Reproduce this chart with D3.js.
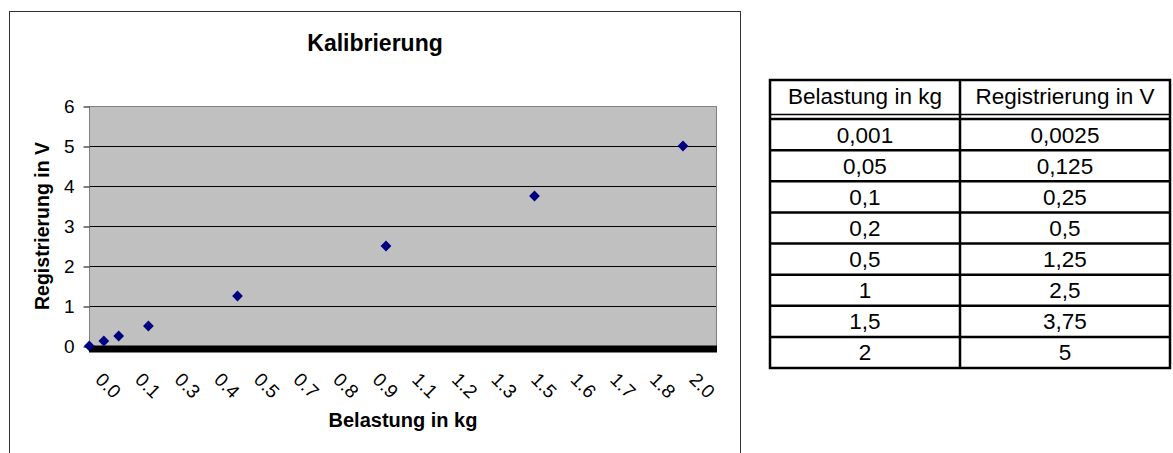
<!DOCTYPE html>
<html>
<head>
<meta charset="utf-8">
<script src="https://cdn.jsdelivr.net/npm/d3@7"></script>
<style>
  body { margin: 0; background: #fff; }
  text { font-family: "Liberation Sans", Arial, sans-serif; }
</style>
</head>
<body>
<div id="chart"></div>
<script>
// Calibration data: load (kg) against recorded signal (V)
let loads = [0.001, 0.05, 0.1, 0.2, 0.5, 1, 1.5, 2];
let volts = [0.0025, 0.125, 0.25, 0.5, 1.25, 2.5, 3.75, 5];

// Axis ticks as printed on the chart
let xTickLabels = ["0.0", "0.1", "0.3", "0.4", "0.5", "0.7", "0.8", "0.9",
                   "1.1", "1.2", "1.3", "1.5", "1.6", "1.7", "1.8", "2.0"];
let yTicks = [0, 1, 2, 3, 4, 5, 6];

let tableHeaders = ["Belastung in kg", "Registrierung in V"];

let width = 1173, height = 453;
let plot = {left: 89, top: 106, right: 717, bottom: 346};

let svg = d3.select("#chart")
    .append("svg")
    .attr("width", width)
    .attr("height", height);

// Chart frame (runs off the bottom of the picture)
svg.append("rect")
    .attr("x", 9.5).attr("y", 11.5)
    .attr("width", 731).attr("height", 480)
    .attr("fill", "#fff")
    .attr("stroke", "#333");

// Scales
let x = d3.scaleLinear().domain([0, 2]).range([plot.left, 683]);
let y = d3.scaleLinear().domain([0, 6]).range([plot.bottom, plot.top]);

// Grey plot area
svg.append("rect")
    .attr("x", plot.left).attr("y", plot.top)
    .attr("width", plot.right - plot.left)
    .attr("height", plot.bottom - plot.top)
    .attr("fill", "#c0c0c0");

// Horizontal gridlines
svg.append("g")
    .selectAll("line")
    .data(yTicks.filter(d => d > 0 && d < 6))
    .enter()
    .append("line")
    .attr("x1", plot.left).attr("x2", plot.right)
    .attr("y1", d => Math.round(y(d)) + 0.5)
    .attr("y2", d => Math.round(y(d)) + 0.5)
    .attr("stroke", "#000");

// Plot border (top, right, left)
svg.append("path")
    .attr("d", `M${plot.left + 0.5},${plot.bottom} V${plot.top + 0.5} H${plot.right - 0.5} V${plot.bottom}`)
    .attr("fill", "none")
    .attr("stroke", "#808080");

// Y axis
let yAxis = svg.append("g")
    .attr("transform", `translate(${plot.left + 0.5}, 0.5)`)
    .call(d3.axisLeft(y).tickValues(yTicks).tickFormat(d3.format("d")).tickSize(6).tickPadding(9));
yAxis.select(".domain").remove();
yAxis.selectAll("line").attr("stroke", "#000");
yAxis.selectAll("text")
    .style("font-size", "19px")
    .style("font-family", "'Liberation Sans', Arial, sans-serif")
    .attr("fill", "#000");

// Thick black x axis
svg.append("rect")
    .attr("x", plot.left).attr("y", plot.bottom - 0.5)
    .attr("width", plot.right - plot.left)
    .attr("height", 7)
    .attr("fill", "#000");

// Rotated x tick labels, evenly spaced from 0 to 2
let xTickValues = xTickLabels.map((d, i) => i * 2 / (xTickLabels.length - 1));
svg.append("g")
    .selectAll("text")
    .data(xTickValues)
    .enter()
    .append("text")
    .attr("transform", d => `translate(${x(d) + 15}, 371) rotate(45)`)
    .attr("dy", "0.72em")
    .style("font-size", "19px")
    .text((d, i) => xTickLabels[i]);

// Data points as navy diamonds
let points = loads.map((d, i) => ({load: d, volt: volts[i]}));
svg.append("g")
    .selectAll("path")
    .data(points)
    .enter()
    .append("path")
    .attr("d", d3.symbol(d3.symbolSquare, 58))
    .attr("transform", d => `translate(${x(d.load)}, ${y(d.volt)}) rotate(45)`)
    .attr("fill", "#000080");

// Titles
svg.append("text")
    .attr("x", 375).attr("y", 51)
    .style("text-anchor", "middle")
    .style("font-size", "23px")
    .style("font-weight", "bold")
    .text("Kalibrierung");

svg.append("text")
    .attr("transform", `translate(49, ${(plot.top + plot.bottom) / 2}) rotate(-90)`)
    .style("text-anchor", "middle")
    .style("font-size", "19.5px")
    .style("font-weight", "bold")
    .text("Registrierung in V");

svg.append("text")
    .attr("x", (plot.left + plot.right) / 2).attr("y", 427)
    .style("text-anchor", "middle")
    .style("font-size", "20px")
    .style("font-weight", "bold")
    .text("Belastung in kg");

// Value table on the right
let table = {left: 770, mid: 960, right: 1170, top: 80, headBottom: 114.5, bodyTop: 119, bottom: 368};
let colCenter = [(table.left + table.mid) / 2, (table.mid + table.right) / 2];
let row = d3.scaleBand().domain(d3.range(loads.length)).range([table.bodyTop, table.bottom]);

let tg = svg.append("g");
let fmt = d => String(d).replace(".", ",");

// header texts
tg.selectAll("text.head")
    .data(tableHeaders)
    .enter()
    .append("text")
    .attr("class", "head")
    .attr("x", (d, i) => colCenter[i])
    .attr("y", 104)
    .style("text-anchor", "middle")
    .style("font-size", "22.5px")
    .text(d => d);

// body texts
let rows = tg.selectAll("g.row")
    .data(points)
    .enter()
    .append("g")
    .attr("class", "row")
    .attr("transform", (d, i) => `translate(0, ${row(i)})`);
rows.append("text")
    .attr("x", colCenter[0]).attr("y", row.bandwidth() / 2 + 8)
    .style("text-anchor", "middle")
    .style("font-size", "22.5px")
    .text(d => fmt(d.load));
rows.append("text")
    .attr("x", colCenter[1]).attr("y", row.bandwidth() / 2 + 8)
    .style("text-anchor", "middle")
    .style("font-size", "22.5px")
    .text(d => fmt(d.volt));

// grid lines of the table
tg.selectAll("line.hrow")
    .data(d3.range(1, loads.length))
    .enter()
    .append("line")
    .attr("class", "hrow")
    .attr("x1", table.left).attr("x2", table.right)
    .attr("y1", d => row(d)).attr("y2", d => row(d))
    .attr("stroke", "#000").attr("stroke-width", 2.5);
// double line below the header
tg.append("line")
    .attr("x1", table.left).attr("x2", table.right)
    .attr("y1", table.headBottom).attr("y2", table.headBottom)
    .attr("stroke", "#000").attr("stroke-width", 1.5);
tg.append("line")
    .attr("x1", table.left).attr("x2", table.right)
    .attr("y1", table.bodyTop).attr("y2", table.bodyTop)
    .attr("stroke", "#000").attr("stroke-width", 2.5);
tg.append("line")
    .attr("x1", table.mid).attr("x2", table.mid)
    .attr("y1", table.top).attr("y2", table.bottom)
    .attr("stroke", "#000").attr("stroke-width", 2.5);
tg.append("rect")
    .attr("x", table.left).attr("y", table.top)
    .attr("width", table.right - table.left)
    .attr("height", table.bottom - table.top)
    .attr("fill", "none")
    .attr("stroke", "#000").attr("stroke-width", 2.5);
</script>
</body>
</html>
